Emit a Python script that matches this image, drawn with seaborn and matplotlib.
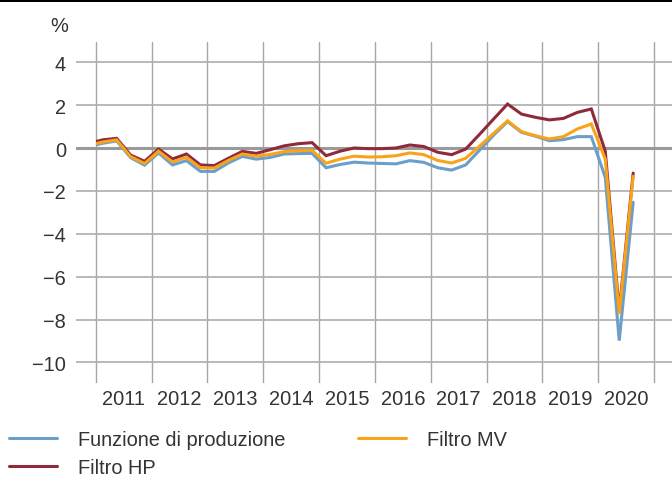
import matplotlib
matplotlib.use("Agg")
import matplotlib.pyplot as plt
from matplotlib.patches import Rectangle
from matplotlib.lines import Line2D
import seaborn as sns
import pandas as pd
import numpy as np

# ---- data (quarterly, 2010Q4 .. 2020Q3) ----
quarters = ["2010Q4",
            "2011Q1", "2011Q2", "2011Q3", "2011Q4",
            "2012Q1", "2012Q2", "2012Q3", "2012Q4",
            "2013Q1", "2013Q2", "2013Q3", "2013Q4",
            "2014Q1", "2014Q2", "2014Q3", "2014Q4",
            "2015Q1", "2015Q2", "2015Q3", "2015Q4",
            "2016Q1", "2016Q2", "2016Q3", "2016Q4",
            "2017Q1", "2017Q2", "2017Q3", "2017Q4",
            "2018Q1", "2018Q2", "2018Q3", "2018Q4",
            "2019Q1", "2019Q2", "2019Q3", "2019Q4",
            "2020Q1", "2020Q2", "2020Q3"]

funzione_produzione = [0.06,
    0.22, 0.33, -0.45, -0.80,
    -0.23, -0.79, -0.59, -1.09,
    -1.09, -0.70, -0.39, -0.52,
    -0.44, -0.28, -0.26, -0.25,
    -0.92, -0.77, -0.66, -0.70,
    -0.72, -0.74, -0.59, -0.67,
    -0.92, -1.03, -0.79, -0.10,
    0.60, 1.23, 0.73, 0.55,
    0.34, 0.39, 0.53, 0.53,
    -1.37, -8.98, -2.53]

filtro_mv = [0.12,
    0.28, 0.38, -0.40, -0.72,
    -0.15, -0.65, -0.43, -0.92,
    -0.93, -0.58, -0.28, -0.38,
    -0.30, -0.17, -0.13, -0.11,
    -0.71, -0.52, -0.38, -0.42,
    -0.41, -0.36, -0.23, -0.31,
    -0.58, -0.70, -0.48, 0.09,
    0.68, 1.27, 0.76, 0.57,
    0.42, 0.53, 0.89, 1.12,
    -0.51, -7.74, -1.32]

filtro_hp = [0.22,
    0.38, 0.45, -0.33, -0.62,
    -0.05, -0.51, -0.28, -0.79,
    -0.82, -0.48, -0.16, -0.25,
    -0.08, 0.10, 0.20, 0.25,
    -0.36, -0.15, 0.00, -0.03,
    -0.03, 0.00, 0.14, 0.07,
    -0.20, -0.31, -0.05, 0.64,
    1.35, 2.05, 1.58, 1.43,
    1.31, 1.38, 1.66, 1.82,
    -0.15, -7.60, -1.17]

series_names = ["Funzione di produzione", "Filtro HP", "Filtro MV"]
colors = {"Funzione di produzione": "#6a9fca",
          "Filtro HP": "#8e2b3a",
          "Filtro MV": "#f9a31b"}
year_labels = [str(y) for y in range(2011, 2021)]
yticks = [4, 2, 0, -2, -4, -6, -8, -10]

# quarter mid-points on a continuous time axis
tpos = [int(q[:4]) + (int(q[-1]) - 0.5) / 4 for q in quarters]

df = pd.DataFrame({
    "t": tpos * 3,
    "value": funzione_produzione + filtro_hp + filtro_mv,
    "serie": [series_names[0]] * len(tpos) + [series_names[1]] * len(tpos)
             + [series_names[2]] * len(tpos),
})

# ---- styling ----
sns.set_theme(style="white")
plt.rcParams["font.family"] = ["Liberation Sans", "DejaVu Sans"]
plt.rcParams["axes.unicode_minus"] = True
FS = 14.4
TXT = "#333333"

fig = plt.figure(figsize=(6.72, 4.81), dpi=100)
W, H = 672, 481
ax = fig.add_axes([76 / W, 1 - 384 / H, 1 - 76 / W, (384 - 43) / H])

sns.lineplot(data=df, x="t", y="value", hue="serie", hue_order=series_names,
             palette=colors, linewidth=2.2, legend=False, ax=ax, zorder=3,
             estimator=None)

# clip series at start of 2011
clip = Rectangle((2011.0, -50), 30, 100, transform=ax.transData)
for ln in ax.get_lines():
    ln.set_clip_path(clip)
    ln.set_solid_joinstyle("miter")

ax.set_xlim(2010.647, 2021.32)
ax.set_ylim(-10.956, 4.942)

# vertical grid at year boundaries; labels centred in each year
ax.set_xticks(list(range(2011, 2022)))
ax.set_xticklabels([""] * 11)
ax.set_xticks([y + 0.5 for y in range(2011, 2021)], minor=True)
ax.set_xticklabels(year_labels, minor=True)
ax.tick_params(axis="x", which="both", length=0, pad=4.5,
               labelsize=FS, labelcolor=TXT)
ax.grid(axis="x", which="major", color="#a6a6a6", linewidth=1.0, zorder=1)

ax.set_yticks(yticks)
ax.set_yticklabels(["\u2212" + str(abs(v)) if v < 0 else str(v) for v in yticks])
ax.tick_params(axis="y", length=0, pad=7.2, labelsize=FS, labelcolor=TXT)
for v in yticks:
    if v == 0:
        ax.axhline(v, color="#9a9a9a", linewidth=2.2, zorder=2)
    else:
        ax.axhline(v, color="#b3b3b3", linewidth=1.3, zorder=1)

ax.set_xlabel("")
ax.set_ylabel("")
for s in ax.spines.values():
    s.set_visible(False)
ax.set_facecolor("white")

# top black bar
fig.add_artist(Rectangle((0, 1 - 3 / H), 1, 3 / H, transform=fig.transFigure,
                         color="black", lw=0))

# unit label
fig.text(59 / W, 1 - 26 / H, "%", ha="center", va="center",
         fontsize=FS, color=TXT)

# legends
def handle(name):
    return Line2D([], [], color=colors[name], linewidth=2.2)

leg_kw = dict(frameon=False, fontsize=FS, handlelength=2.4,
              handletextpad=1.05, borderpad=0, borderaxespad=0,
              labelspacing=0.45, labelcolor=TXT)
leg1 = fig.legend([handle("Funzione di produzione"), handle("Filtro HP")],
                  ["Funzione di produzione", "Filtro HP"],
                  loc="upper left", bbox_to_anchor=(8.6 / W, 1 - 431 / H),
                  **leg_kw)
leg2 = fig.legend([handle("Filtro MV")], ["Filtro MV"],
                  loc="upper left", bbox_to_anchor=(358 / W, 1 - 431 / H),
                  **leg_kw)

fig.savefig("out.png", dpi=100, facecolor="white")
